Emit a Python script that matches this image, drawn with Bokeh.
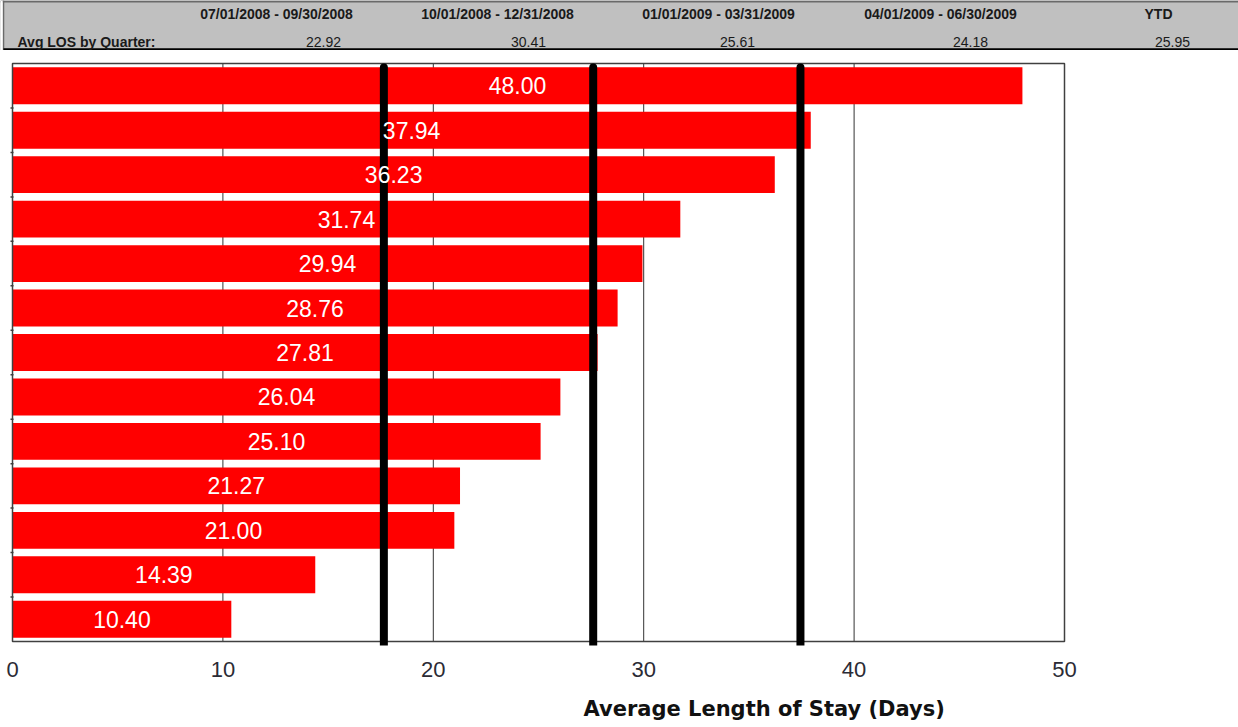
from bokeh.plotting import figure
from bokeh.layouts import column
from bokeh.models import Range1d, FixedTicker, ColumnDataSource, Title
from bokeh.embed import file_html
from bokeh.resources import INLINE
from bokeh.core.properties import value

# ---------------- data ----------------
quarter_labels = ["07/01/2008 - 09/30/2008", "10/01/2008 - 12/31/2008",
                  "01/01/2009 - 03/31/2009", "04/01/2009 - 06/30/2009", "YTD"]
quarter_avgs = [22.92, 30.41, 25.61, 24.18, 25.95]
row_label = "Avg LOS by Quarter:"

bar_values = [48.00, 37.94, 36.23, 31.74, 29.94, 28.76, 27.81,
              26.04, 25.10, 21.27, 21.00, 14.39, 10.40]
ref_lines = [17.65, 27.6, 37.45]
x_ticks = [0, 10, 20, 30, 40, 50]
x_title = "Average Length of Stay (Days)"

# ---------------- layout ----------------
hdr_label_x = [276, 497, 718, 940, 1158]
hdr_value_x = [323, 528, 737, 970, 1172]

FONT = "Liberation Sans"
W = 1238
HDR_H = 50
PLOT_LEFT, PLOT_RIGHT = 12, 1064          # pixel span of the 0..50 axis
PLOT_TOP, PLOT_BOTTOM = 63, 641           # pixel span of the bar area
PAD = 4                                   # extra frame pixels above/below bar area

# ---------------- header ----------------
hdr = figure(width=W, height=HDR_H, x_range=Range1d(0, W), y_range=Range1d(HDR_H, 0),
             output_backend="svg", toolbar_location=None, min_border=0,
             background_fill_color="#c0c0c0", border_fill_color="#c0c0c0")
hdr.axis.visible = False
hdr.grid.visible = False
hdr.outline_line_color = None
hdr.segment(x0=[0], y0=[1], x1=[W], y1=[1], line_color="#6a6a6a", line_width=2)
hdr.segment(x0=[3], y0=[0], x1=[3], y1=[HDR_H], line_color="#6a6a6a", line_width=1.5)
hdr.segment(x0=[3], y0=[48.7], x1=[W], y1=[48.7], line_color="#000000", line_width=1.8)
hdr.quad(left=[0], right=[2.2], top=[0], bottom=[HDR_H], fill_color="white", line_color=None)
hdr.quad(left=[0], right=[W], top=[49.6], bottom=[HDR_H], fill_color="white", line_color=None)

hsrc = ColumnDataSource(dict(lx=hdr_label_x, vx=hdr_value_x, lab=quarter_labels,
                             val=["%.2f" % v for v in quarter_avgs],
                             ly=[13.5] * len(quarter_labels), vy=[41] * len(quarter_labels)))
hdr.text(x="lx", y="ly", text="lab", source=hsrc, text_font=value(FONT),
         text_font_size="14px", text_font_style="bold", text_color="#1a1a1a",
         text_align="center", text_baseline="middle")
hdr.text(x="vx", y="vy", text="val", source=hsrc, text_font=value(FONT),
         text_font_size="14px", text_color="#1a1a1a",
         text_align="center", text_baseline="middle")
hdr.text(x=[17], y=[41.5], text=[row_label], text_font=value(FONT),
         text_font_size="14px", text_font_style="bold", text_color="#1a1a1a",
         text_align="left", text_baseline="middle")

# ---------------- main chart ----------------
n = len(bar_values)
xmax = x_ticks[-1]
ppx = (PLOT_RIGHT - PLOT_LEFT) / xmax                 # pixels per day
ppy = (PLOT_BOTTOM - PLOT_TOP) / n                    # pixels per bar slot
x_lo = -PLOT_LEFT / ppx
x_hi = (W - PLOT_LEFT) / ppx
y_pad = PAD / ppy

ys = [n - 0.5 - i for i in range(n)]
src = ColumnDataSource(dict(y=ys, right=bar_values, mid=[v / 2 for v in bar_values],
                            lab=["%.2f" % v for v in bar_values]))

p = figure(frame_width=W, frame_height=(PLOT_BOTTOM - PLOT_TOP) + 2 * PAD,
           x_range=Range1d(x_lo, x_hi), y_range=Range1d(-y_pad, n + y_pad),
           output_backend="svg", toolbar_location=None,
           min_border_left=0, min_border_right=0,
           min_border_top=PLOT_TOP - PAD - HDR_H,
           min_border_bottom=727 - 1 - HDR_H - (PLOT_TOP - PAD - HDR_H) - ((PLOT_BOTTOM - PLOT_TOP) + 2 * PAD),
           background_fill_color="white", border_fill_color="white")
p.outline_line_color = None
p.yaxis.visible = False
p.grid.visible = False
p.xaxis.ticker = FixedTicker(ticks=x_ticks)
p.xaxis.axis_line_color = None
p.xaxis.major_tick_line_color = None
p.xaxis.minor_tick_line_color = None
p.xaxis.major_label_standoff = 10
p.xaxis.major_label_text_font = FONT
p.xaxis.major_label_text_font_size = "22px"
p.xaxis.major_label_text_color = "#2b2b35"

# grid lines at the inner ticks
inner = x_ticks[1:-1]
p.segment(x0=inner, y0=[0] * len(inner), x1=inner, y1=[n] * len(inner),
          line_color="#333333", line_width=1)
# small tick marks at the category boundaries on the left edge
bnd = list(range(1, n))
p.segment(x0=[-2 / ppx] * len(bnd), y0=bnd, x1=[1 / ppx] * len(bnd), y1=bnd,
          line_color="#404040", line_width=1.5)

p.hbar(y="y", right="right", left=0, height=0.83, source=src,
       fill_color="#ff0000", line_color=None)
# plot-area border
p.quad(left=[0], right=[xmax], bottom=[0], top=[n], fill_color=None,
       line_color="#404040", line_width=1.5)
p.segment(x0=ref_lines, y0=[n - 0.09] * len(ref_lines), x1=ref_lines, y1=[-0.3] * len(ref_lines),
          line_color="black", line_width=8, line_cap="round")
p.text(x="mid", y="y", text="lab", source=src, text_font=value(FONT),
       text_font_size="23px", text_color="white",
       text_align="center", text_baseline="middle")

t = Title(text=x_title, align="left", offset=583, text_font="DejaVu Sans",
          text_font_size="21px", text_font_style="bold", text_color="#111111", standoff=31)
p.add_layout(t, "below")

layout = column(hdr, p, spacing=0)
open("out.html", "w").write(file_html(layout, INLINE))
